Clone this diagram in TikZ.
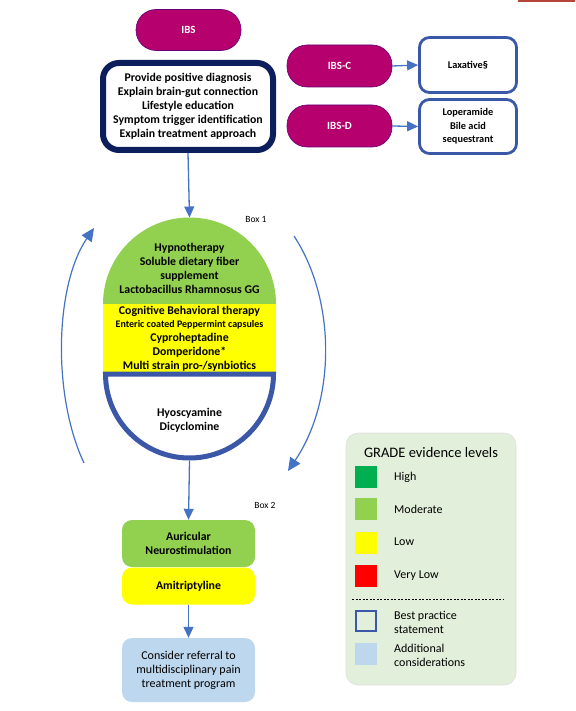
\documentclass[tikz,border=0pt]{standalone}
\usepackage{fontspec}
\setmainfont{Carlito}
\usetikzlibrary{arrows.meta}
\definecolor{magentaA}{HTML}{B5006E}
\definecolor{navyA}{HTML}{0C1E5B}
\definecolor{blueBd}{HTML}{3B58A8}
\definecolor{arrowBlue}{HTML}{4472C4}
\definecolor{grnA}{HTML}{92D050}
\definecolor{hgrnA}{HTML}{00B050}
\definecolor{ylwA}{HTML}{FFFF00}
\definecolor{lblueA}{HTML}{BDD7EE}
\definecolor{legbgA}{HTML}{E2EFDA}
\definecolor{redlineA}{HTML}{B5473A}
\tikzset{
  pill/.style={rectangle, rounded corners=20pt, fill=magentaA, draw=magentaA!70!blue!80!black, line width=0.6pt,
    text=white, font=\fontsize{11}{13}\selectfont\bfseries, minimum width=105pt, minimum height=41pt, inner sep=0pt},
  mainbox/.style={rectangle, rounded corners=16pt, draw=navyA, line width=6pt, fill=white, align=center,
    font=\fontsize{11.8}{14}\selectfont\bfseries, minimum width=170pt, minimum height=87pt, inner sep=0pt},
  drugbox/.style={rectangle, rounded corners=10pt, draw=blueBd, line width=2.8pt, fill=white, align=center,
    font=\fontsize{10.3}{13.5}\selectfont\bfseries, minimum width=97pt, inner sep=0pt},
  stackbox/.style={rectangle, rounded corners=10pt, align=center, minimum width=133pt, inner sep=0pt},
  arr/.style={-{Triangle[length=11pt,width=10pt]}, draw=arrowBlue, line width=1.3pt},
  bigarr/.style={-{Triangle[length=13pt,width=12pt]}, draw=arrowBlue, line width=1.2pt},
  legsq/.style={rectangle, minimum width=22pt, minimum height=22pt, inner sep=0pt},
  leglab/.style={anchor=west, align=left, font=\fontsize{12}{14}\selectfont, inner sep=0pt},
  smalllab/.style={font=\fontsize{9.5}{11}\selectfont, inner sep=0pt},
  boldtxt/.style={align=center, font=\fontsize{11.8}{14}\selectfont\bfseries, inner sep=0pt},
}
\begin{document}
\begin{tikzpicture}[x=1pt,y=1pt]
\useasboundingbox (0,0) rectangle (575,-711);
% red fragment at top right
\draw[redlineA, line width=2pt] (518,-1) -- (575,-1);

% top nodes
\node[pill] (ibs) at (188.5,-30) {IBS};
\node[mainbox] (main) at (188,-106.5) {Provide positive diagnosis\\Explain brain-gut connection\\Lifestyle education\\Symptom trigger identification\\Explain treatment approach};
\node[pill, minimum height=42pt] (ibsc) at (339.5,-66) {IBS-C};
\node[pill, minimum height=42pt] (ibsd) at (339.5,-126) {IBS-D};
\node[drugbox, minimum height=55pt] (lax) at (468,-65) {Laxative\S};
\node[drugbox, minimum height=54pt] (lop) at (468,-126.5) {Loperamide\\Bile acid\\sequestrant};
\draw[arr] (ibsc.east) -- (lax.west);
\draw[arr] (ibsd.east) -- (lop.west);

% Box 1 dome
\fill[grnA] (103,-304) arc[start angle=180, end angle=0, radius=86.5] -- cycle;
\fill[ylwA] (103,-303.5) rectangle (276,-374);
\draw[blueBd, line width=5pt, fill=white] (105.5,-374) arc[start angle=180, end angle=360, radius=84] -- cycle;
\coordinate (domtop) at (189.5,-217.5);
\coordinate (bowlbot) at (189.5,-460.5);
\draw[arr] (main.south) -- (domtop);
\node[boldtxt] (grtext) at (189.5,-268)
  {Hypnotherapy\\Soluble dietary fiber\\supplement\\Lactobacillus Rhamnosus GG};
\node[boldtxt, font=\fontsize{11.8}{13.8}\selectfont\bfseries] (yltext) at (189.5,-338.5)
  {Cognitive Behavioral therapy\\{\fontsize{10}{13.8}\selectfont Enteric coated Peppermint capsules}\\Cyproheptadine\\Domperidone*\\Multi strain pro-/synbiotics};
\node[boldtxt] (bwtext) at (189.5,-420)
  {Hyoscyamine\\Dicyclomine};
\node[smalllab] (box1) at (256,-219) {Box 1};

% cycle arrows
\coordinate (la) at (84,-463);
\coordinate (lb) at (94,-228);
\coordinate (ra) at (294,-236);
\coordinate (rb) at (288,-471);
\draw[bigarr] (la) .. controls (52,-395) and (55,-285) .. (lb);
\draw[bigarr] (ra) .. controls (336,-300) and (336,-400) .. (rb);

% Box 2
\node[smalllab] (box2) at (265,-505) {Box 2};
\node[stackbox, boldtxt, fill=grnA, minimum height=47pt] (aur) at (188.5,-543.5) {Auricular\\Neurostimulation};
\node[stackbox, boldtxt, fill=ylwA, minimum height=37pt] (ami) at (188.5,-586) {Amitriptyline};
\node[stackbox, fill=lblueA, minimum height=64pt, font=\fontsize{12}{14}\selectfont] (cons) at (188.5,-670) {Consider referral to\\multidisciplinary pain\\treatment program};
\draw[arr] (bowlbot) -- (aur.north);
\draw[arr] (ami.south) -- (cons.north);

% legend
\node[rectangle, rounded corners=12pt, fill=legbgA, draw=gray!25, line width=0.6pt, minimum width=170pt, minimum height=252pt, inner sep=0pt] (legend) at (431,-559) {};
\node[font=\fontsize{14.5}{16}\selectfont, inner sep=0pt] (legtitle) at (431,-452.5) {GRADE evidence levels};
\node[legsq, fill=hgrnA] (sqh) at (366,-477) {};
\node[legsq, fill=grnA] (sqm) at (366,-509) {};
\node[legsq, fill=ylwA] (sql) at (366,-543) {};
\node[legsq, fill=red] (sqv) at (366,-576) {};
\node[legsq, draw=blueBd, line width=2.8pt, minimum width=20pt, minimum height=20pt] (sqb) at (366,-621) {};
\node[legsq, fill=lblueA] (sqa) at (366,-654) {};
\node[leglab] (lh) at (394,-477) {High};
\node[leglab] (lm) at (394,-509) {Moderate};
\node[leglab] (ll) at (394,-542) {Low};
\node[leglab] (lv) at (394,-576) {Very Low};
\node[leglab] (lb2) at (394,-622) {Best practice\\statement};
\node[leglab] (la2) at (394,-655) {Additional\\considerations};
\coordinate (dl) at (352,-599);
\coordinate (dr) at (504,-599);
\draw[black, line width=0.9pt, dash pattern=on 2pt off 1.5pt] (dl) -- (dr);
\end{tikzpicture}
\end{document}
